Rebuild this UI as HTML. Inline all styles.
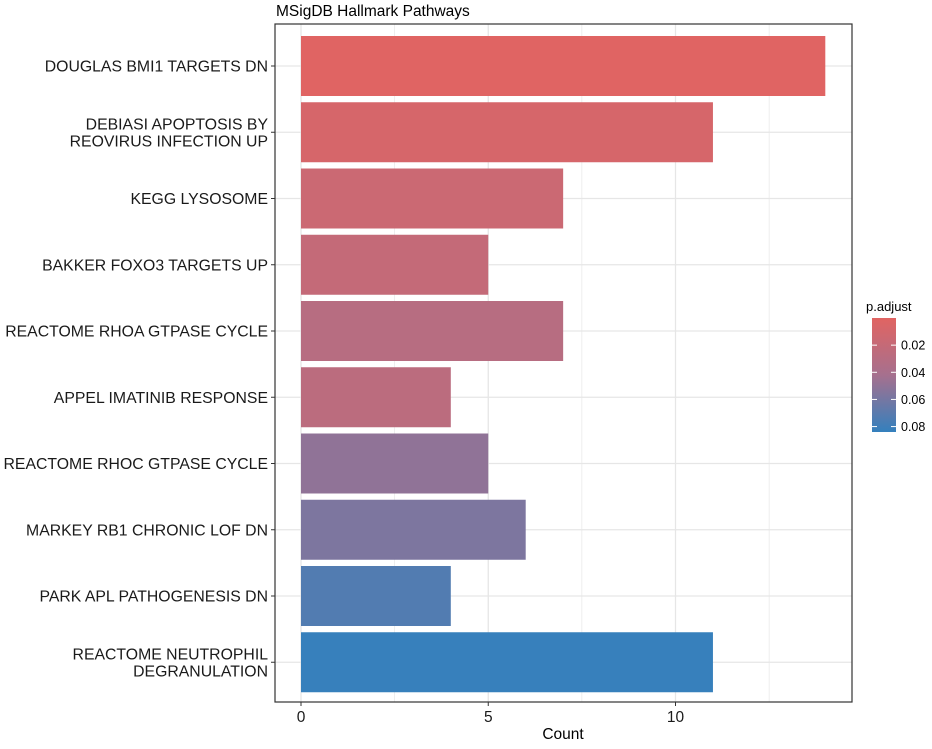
<!DOCTYPE html>
<html><head><meta charset="utf-8"><style>
body{margin:0;background:#fff;}
svg text{font-family:"Liberation Sans",Arial,sans-serif;}
</style></head><body>
<svg id="chart" width="932" height="744" xmlns="http://www.w3.org/2000/svg">
<defs><linearGradient id="lg" x1="0" y1="0" x2="0" y2="1"><stop offset="0" stop-color="#E16462"/><stop offset="0.5" stop-color="#A6708E"/><stop offset="1" stop-color="#3480BD"/></linearGradient></defs>
<text x="276" y="16" font-size="15.5" fill="#000">MSigDB Hallmark Pathways</text>
<g id="grid"></g><g id="bars"></g><g id="ylabels"></g><g id="xaxis"></g>
<rect x="275" y="24" width="577" height="678" fill="none" stroke="#333" stroke-width="1.2"/>
<text x="563" y="739" font-size="15.5" text-anchor="middle">Count</text>
<g>
<text x="866" y="311" font-size="13">p.adjust</text>
<rect x="872" y="318" width="24" height="114" fill="url(#lg)"/>
<g id="legticks"></g>
</g>
</svg>
<script>
const categories=["DOUGLAS BMI1 TARGETS DN","DEBIASI APOPTOSIS BY|REOVIRUS INFECTION UP","KEGG LYSOSOME","BAKKER FOXO3 TARGETS UP","REACTOME RHOA GTPASE CYCLE","APPEL IMATINIB RESPONSE","REACTOME RHOC GTPASE CYCLE","MARKEY RB1 CHRONIC LOF DN","PARK APL PATHOGENESIS DN","REACTOME NEUTROPHIL|DEGRANULATION"];
const counts=[14,11,7,5,7,4,5,6,4,11];
const padj=[0.001,0.008,0.016,0.021,0.03,0.027,0.05,0.057,0.073,0.083];
const xTicks=[0,5,10];
const legTicks=[0.02,0.04,0.06,0.08];
const NS="http://www.w3.org/2000/svg";
const x=v=>301+v*37.45;
const y=i=>66+i*66.25;
const pMin=0,pMax=0.084;
const ly=p=>318+(p-pMin)/(pMax-pMin)*114;
const lo=[225,100,98],mid=[166,112,142],hi=[52,128,189];
function col(p){let t=Math.max(0,Math.min(1,(p-pMin)/(pMax-pMin)));let a,b,u;if(t<0.5){a=lo;b=mid;u=t*2}else{a=mid;b=hi;u=(t-0.5)*2}
return "rgb("+a.map((c,k)=>Math.round(c+(b[k]-c)*u)).join(",")+")";}
function mk(tag,attrs,parent){const e=document.createElementNS(NS,tag);for(const k in attrs)e.setAttribute(k,attrs[k]);document.getElementById(parent).appendChild(e);return e;}
[0,2.5,5,7.5,10,12.5].forEach(v=>{const l=mk("line",{x1:x(v),x2:x(v),y1:24,y2:702,stroke:"#E6E6E6","stroke-width":v%5===0?1.3:0.7},"grid");

});
categories.forEach((c,i)=>{const l=mk("line",{x1:275,x2:852,y1:y(i),y2:y(i),stroke:"#E6E6E6","stroke-width":1.3},"grid");


const r=mk("rect",{x:x(0),y:y(i)-30,width:x(counts[i])-x(0),height:60,fill:col(padj[i])},"bars");


const lines=c.split("|");
const t=mk("text",{x:268,"font-size":15.8,"text-anchor":"end",fill:"#1a1a1a"},"ylabels");


lines.forEach((s,k)=>{const ts=document.createElementNS(NS,"tspan");ts.setAttribute("x",268);ts.setAttribute("y",y(i)+5.5+(k-(lines.length-1)/2)*17);ts.textContent=s;t.appendChild(ts);});
mk("line",{x1:271,x2:275,y1:y(i),y2:y(i),stroke:"#333"},"ylabels");});
xTicks.forEach(v=>{mk("line",{x1:x(v),x2:x(v),y1:702,y2:706,stroke:"#333"},"xaxis");
const t=mk("text",{x:x(v),y:722,"font-size":15.5,"text-anchor":"middle",fill:"#1a1a1a"},"xaxis");t.textContent=v;

});
legTicks.forEach(p=>{const yy=ly(p);
mk("line",{x1:872,x2:877,y1:yy,y2:yy,stroke:"#fff"},"legticks");mk("line",{x1:891,x2:896,y1:yy,y2:yy,stroke:"#fff"},"legticks");
const t=mk("text",{x:901,y:yy+4.5,"font-size":12.5},"legticks");t.textContent=p.toFixed(2);

});
</script>
</body></html>
